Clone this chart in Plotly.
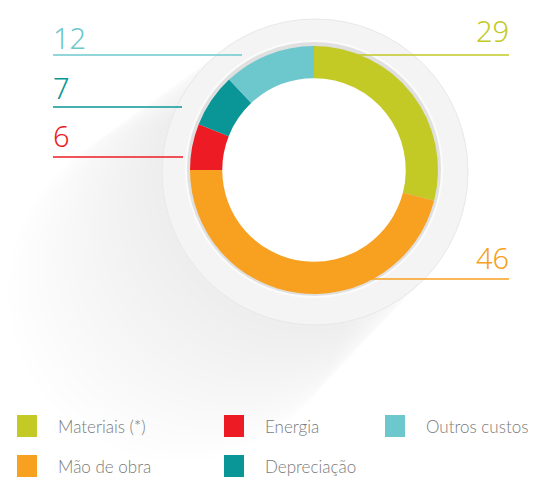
import plotly.graph_objects as go

# ── dados ────────────────────────────────────────────────────────────────
categorias = ["Materiais (*)", "Mão de obra", "Energia", "Depreciação", "Outros custos"]
valores = [29, 46, 6, 7, 12]
cores = ["#c3ca25", "#f8a020", "#ed1c24", "#0a9696", "#6cc8cc"]

W, H = 548, 478

def px(x):
    return x / W

def py(y):
    return 1 - y / H

# centro e raio do donut (pixels)
CX, CY, R = 314, 170, 124
HOLE = 0.74

fig = go.Figure(
    go.Pie(
        labels=categorias,
        values=valores,
        marker=dict(colors=cores, line=dict(width=0)),
        hole=HOLE,
        sort=False,
        direction="clockwise",
        rotation=0,
        textinfo="none",
        hoverinfo="label+value",
        showlegend=False,
        domain=dict(x=[px(CX - R), px(CX + R)], y=[py(CY + R), py(CY - R)]),
    )
)

shapes = []
# sombra difusa para baixo/esquerda
for k in range(1, 18):
    dx, dy = -8 * k, 7 * k
    shapes.append(dict(
        type="circle", xref="paper", yref="paper", layer="below",
        x0=px(CX + 1 - 153 - k + dx), x1=px(CX + 1 + 153 + k + dx),
        y0=py(CY + 2 + 153 + k + dy), y1=py(CY + 2 - 153 - k + dy),
        fillcolor="rgba(120,120,125,0.009)", line=dict(width=0),
    ))
# disco claro
shapes.append(dict(
    type="circle", xref="paper", yref="paper", layer="below",
    x0=px(CX + 1 - 153), x1=px(CX + 1 + 153),
    y0=py(CY + 2 + 153), y1=py(CY + 2 - 153),
    fillcolor="#f4f4f4", line=dict(color="#e8e8e8", width=1),
))
# sombra do anel
shapes.append(dict(
    type="circle", xref="paper", yref="paper", layer="below",
    x0=px(CX - R - 4), x1=px(CX + R + 4),
    y0=py(CY + R + 3), y1=py(CY - R - 5),
    fillcolor="#e0e0e0", line=dict(color="#fbfbfb", width=2),
))
# miolo branco
RH = R * HOLE + 1
shapes.append(dict(
    type="circle", xref="paper", yref="paper", layer="below",
    x0=px(CX - RH), x1=px(CX + RH),
    y0=py(CY + RH), y1=py(CY - RH),
    fillcolor="white", line=dict(width=0),
))

# linhas de rótulo: (categoria, x0, x1, y)
linhas = [
    ("Outros custos", 53, 242, 55),
    ("Depreciação", 53, 182, 107),
    ("Energia", 53, 183, 157),
    ("Materiais (*)", 348, 509, 55),
    ("Mão de obra", 353, 509, 279),
]
for cat, x0, x1, y in linhas:
    c = cores[categorias.index(cat)]
    shapes.append(dict(
        type="line", xref="paper", yref="paper", layer="above",
        x0=px(x0), x1=px(x1), y0=py(y), y1=py(y),
        line=dict(color=c, width=1.5),
    ))

FONTE = "Lato, Open Sans, sans-serif"
FONTE_NUM = "Noto Sans ExtraCondensed Light, Noto Sans Condensed Light, Noto Sans, sans-serif"
annotations = []
# números: (categoria, x, y_base, lado)
numeros = [
    ("Outros custos", 51, 59, "left"),
    ("Depreciação", 51, 109, "left"),
    ("Energia", 51, 157, "left"),
    ("Materiais (*)", 511, 52, "right"),
    ("Mão de obra", 511, 279, "right"),
]
for cat, x, y, lado in numeros:
    i = categorias.index(cat)
    annotations.append(dict(
        text="<span style='font-stretch:condensed'>%d</span>" % valores[i],
        xref="paper", yref="paper",
        x=px(x), y=py(y), xanchor=lado, yanchor="bottom", showarrow=False,
        font=dict(family=FONTE_NUM, size=29, color=cores[i], weight=300),
    ))

# legenda manual
legenda = [
    ("Materiais (*)", 17, 426),
    ("Energia", 224, 426),
    ("Outros custos", 385, 426),
    ("Mão de obra", 17, 466),
    ("Depreciação", 224, 466),
]
for cat, x, y in legenda:
    i = categorias.index(cat)
    shapes.append(dict(
        type="rect", xref="paper", yref="paper",
        x0=px(x), x1=px(x + 20), y0=py(y + 11), y1=py(y - 11),
        fillcolor=cores[i], line=dict(width=0),
    ))
    annotations.append(dict(
        text=cat, xref="paper", yref="paper",
        x=px(x + 39), y=py(y), xanchor="left", yanchor="middle", showarrow=False,
        font=dict(family=FONTE, size=17, color="#7a7a7a", weight=300),
    ))

fig.update_layout(
    width=W, height=H,
    margin=dict(l=0, r=0, t=0, b=0),
    paper_bgcolor="white",
    plot_bgcolor="white",
    shapes=shapes,
    annotations=annotations,
)

fig.write_html("out.html", config={"displayModeBar": False},
               post_script="document.body.style.margin='0';")
